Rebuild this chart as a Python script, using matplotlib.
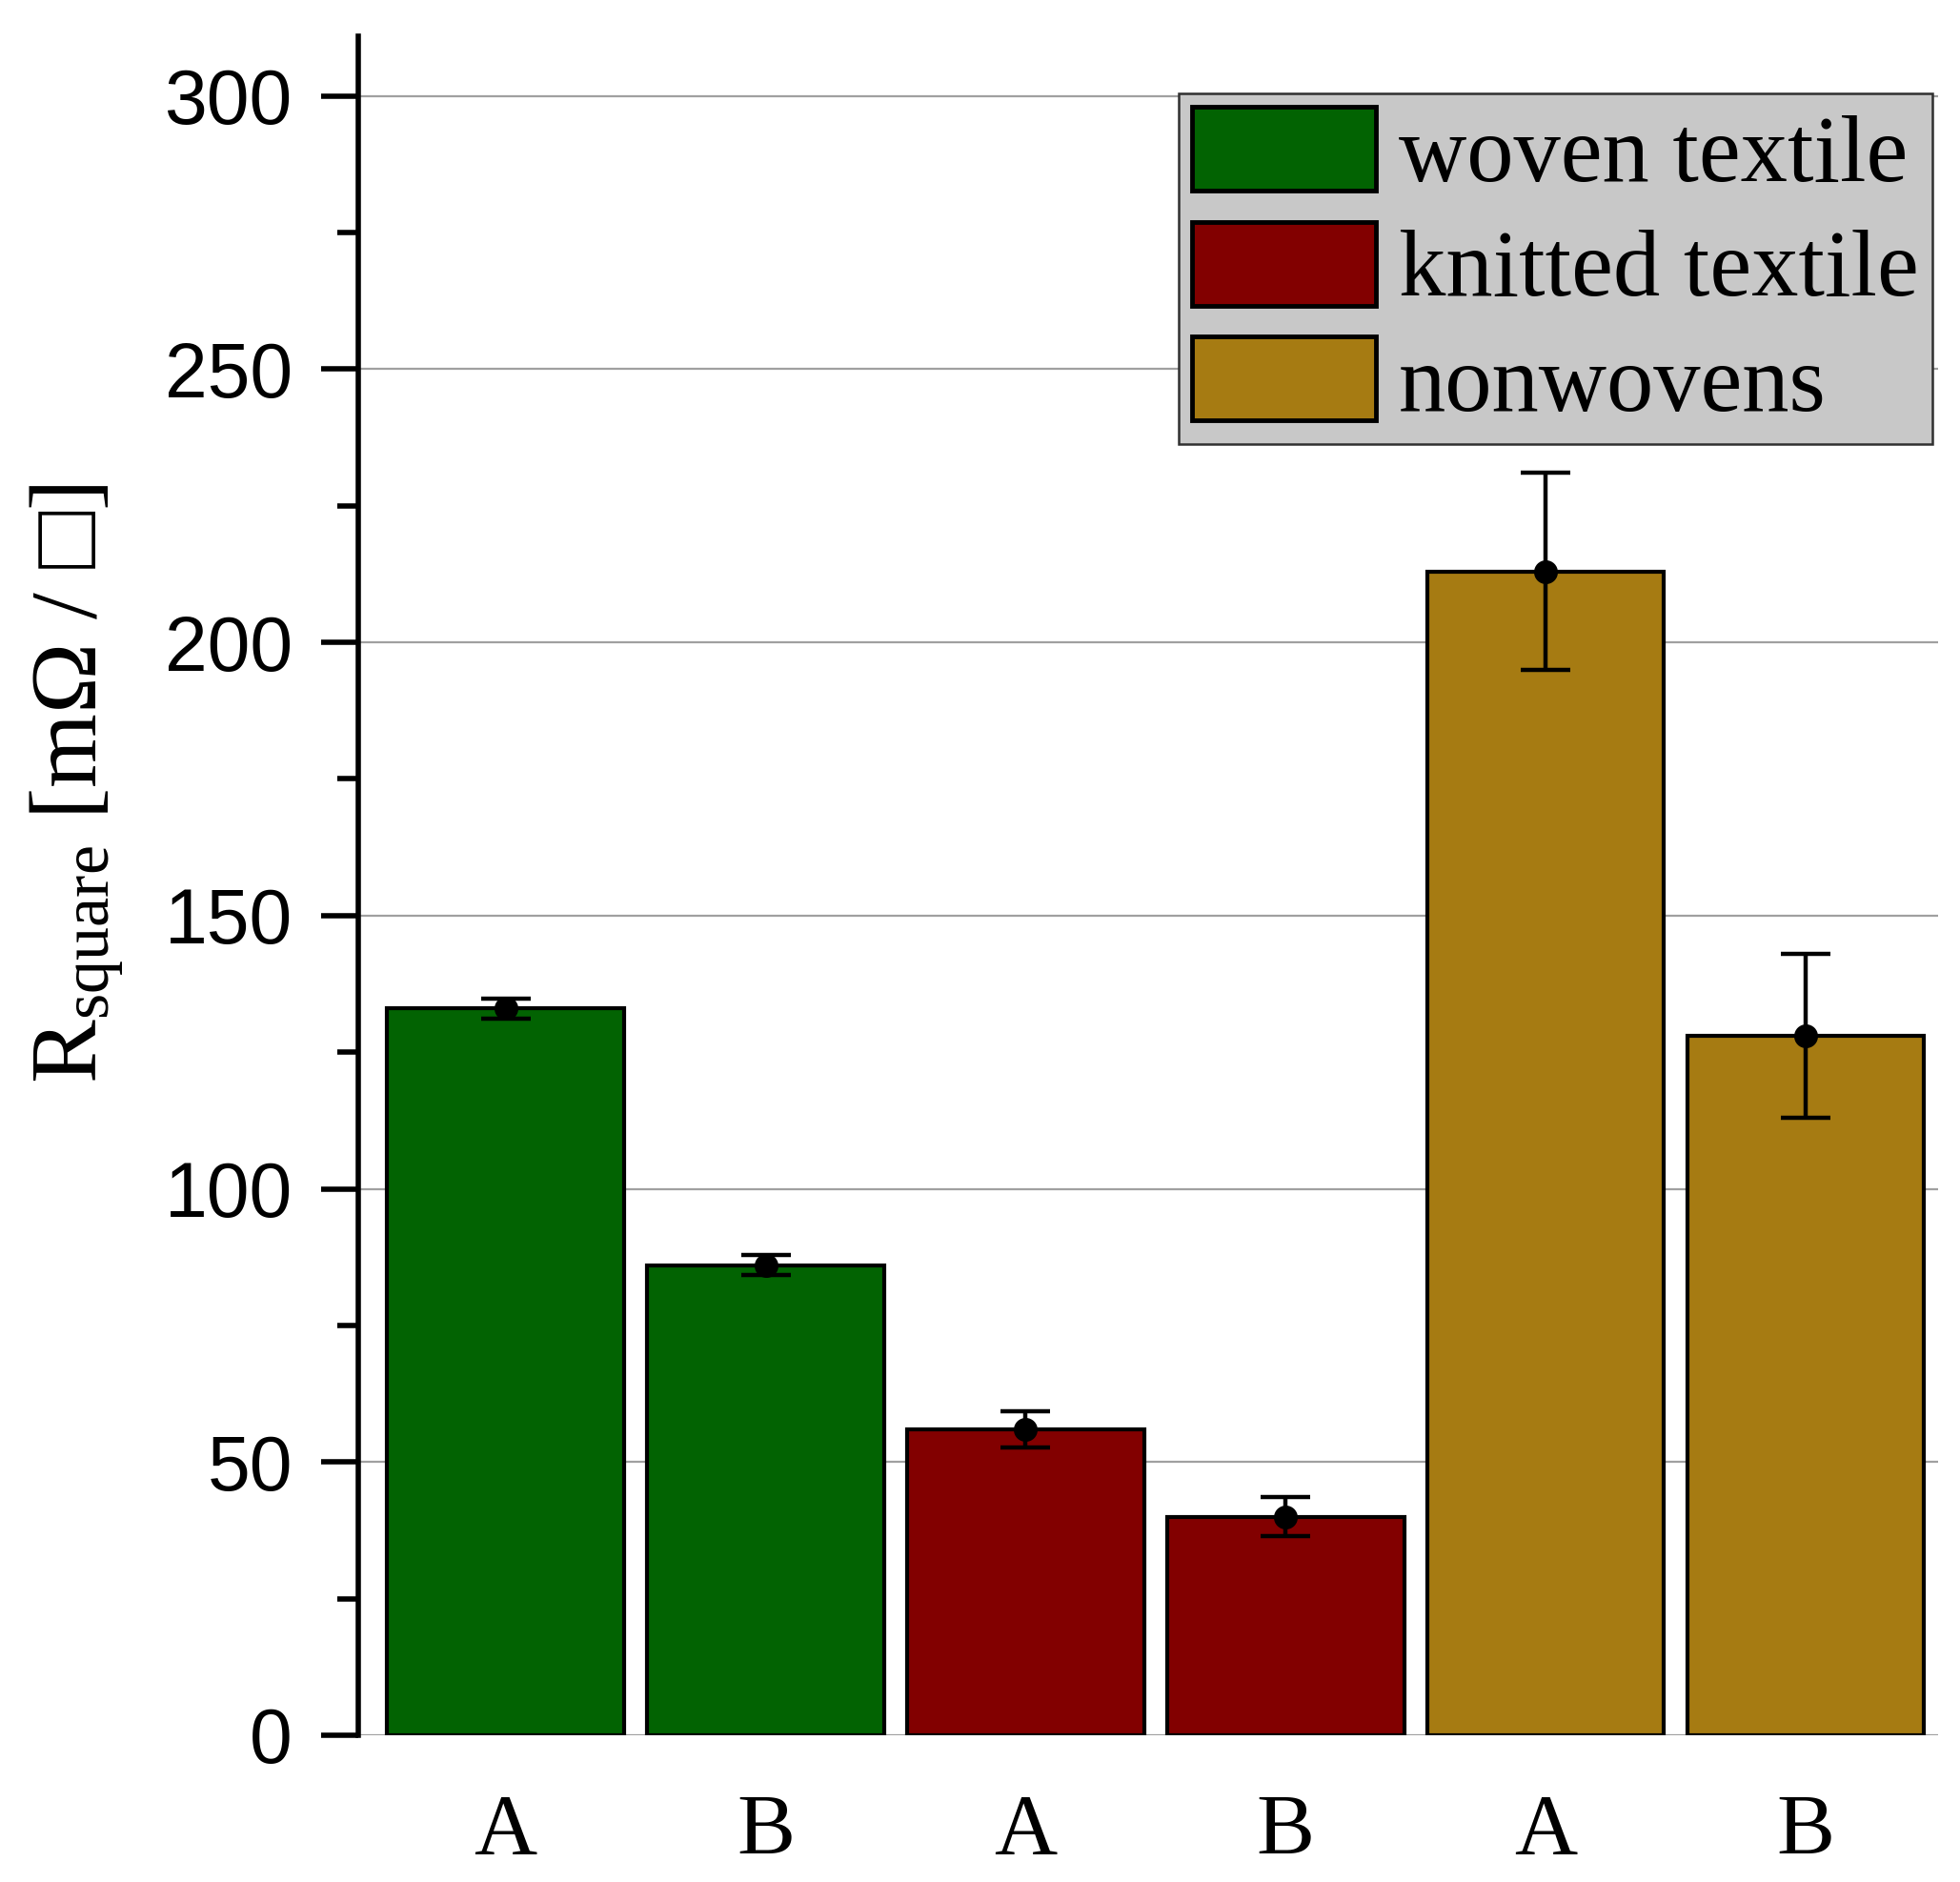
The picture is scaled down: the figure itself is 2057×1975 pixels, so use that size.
import numpy as np
import matplotlib
matplotlib.use('Agg')
import matplotlib.pyplot as plt
from matplotlib.patches import Patch

# data
groups = ['woven textile', 'knitted textile', 'nonwovens']
samples = ['A', 'B', 'A', 'B', 'A', 'B']
group_of_bar = [0, 0, 1, 1, 2, 2]
values = [133, 86, 56, 40, 213, 128]
errors = [1.8, 1.8, 3.3, 3.5, 18, 15]

colors = ['#026302', '#820000', '#a67b12']

plt.rcParams['mathtext.fontset'] = 'custom'
plt.rcParams['mathtext.rm'] = 'Liberation Serif'
plt.rcParams['mathtext.it'] = 'Liberation Serif:italic'

fig = plt.figure(figsize=(20.57, 19.75), dpi=100)
ax = fig.add_axes([0.183, 0.078, 0.806, 0.903])

x = np.arange(len(values))
bar_colors = [colors[g] for g in group_of_bar]
ax.bar(x, values, width=0.91, color=bar_colors, edgecolor='black', linewidth=3, zorder=3)
ax.errorbar(x, values, yerr=errors, fmt='o', color='black', markersize=17,
            elinewidth=3.2, capsize=19, capthick=3.2, zorder=4)

ax.set_xlim(-0.565, 5.51)
ax.set_ylim(0, 311)
ax.set_yticks(np.arange(0, 301, 50))
ax.set_yticks(np.arange(25, 300, 50), minor=True)
ax.set_xticks(x)
ax.set_xticklabels(samples, family='Liberation Serif', fontsize=66)

for lab in ax.get_yticklabels():
    lab.set_family('Liberation Sans')
    lab.set_fontsize(58)

ax.tick_params(axis='y', which='major', direction='out', length=28, width=4, pad=22)
ax.tick_params(axis='y', which='minor', direction='out', length=16, width=4)
ax.tick_params(axis='x', length=0, pad=44)

ax.spines['top'].set_visible(False)
ax.spines['right'].set_visible(False)
ax.spines['bottom'].set_visible(False)
ax.spines['left'].set_linewidth(4)

ax.set_axisbelow(True)
ax.yaxis.grid(True, color='#a0a0a0', linewidth=1.6)
ax.xaxis.grid(False)

ax.set_ylabel(r'R$_{\mathrm{square}}$ [mΩ / □]', family=['Liberation Serif', 'DejaVu Sans'], fontsize=72)
ax.yaxis.set_label_coords(-0.147, 0.56)

handles = [Patch(facecolor=c, edgecolor='black', linewidth=3.5) for c in colors]
leg = ax.legend(handles, groups, loc='upper right', bbox_to_anchor=(0.996, 0.966),
                borderaxespad=0, prop={'family': 'Liberation Serif', 'size': 71},
                fancybox=False, framealpha=1, facecolor='#c8c8c8', edgecolor='#303030',
                handlelength=1.95, handleheight=1.0, handletextpad=0.25,
                labelspacing=0.22, borderpad=0.14)
leg.get_frame().set_linewidth(1.8)
leg.set_zorder(5)

fig.savefig('out.png', dpi=100)
